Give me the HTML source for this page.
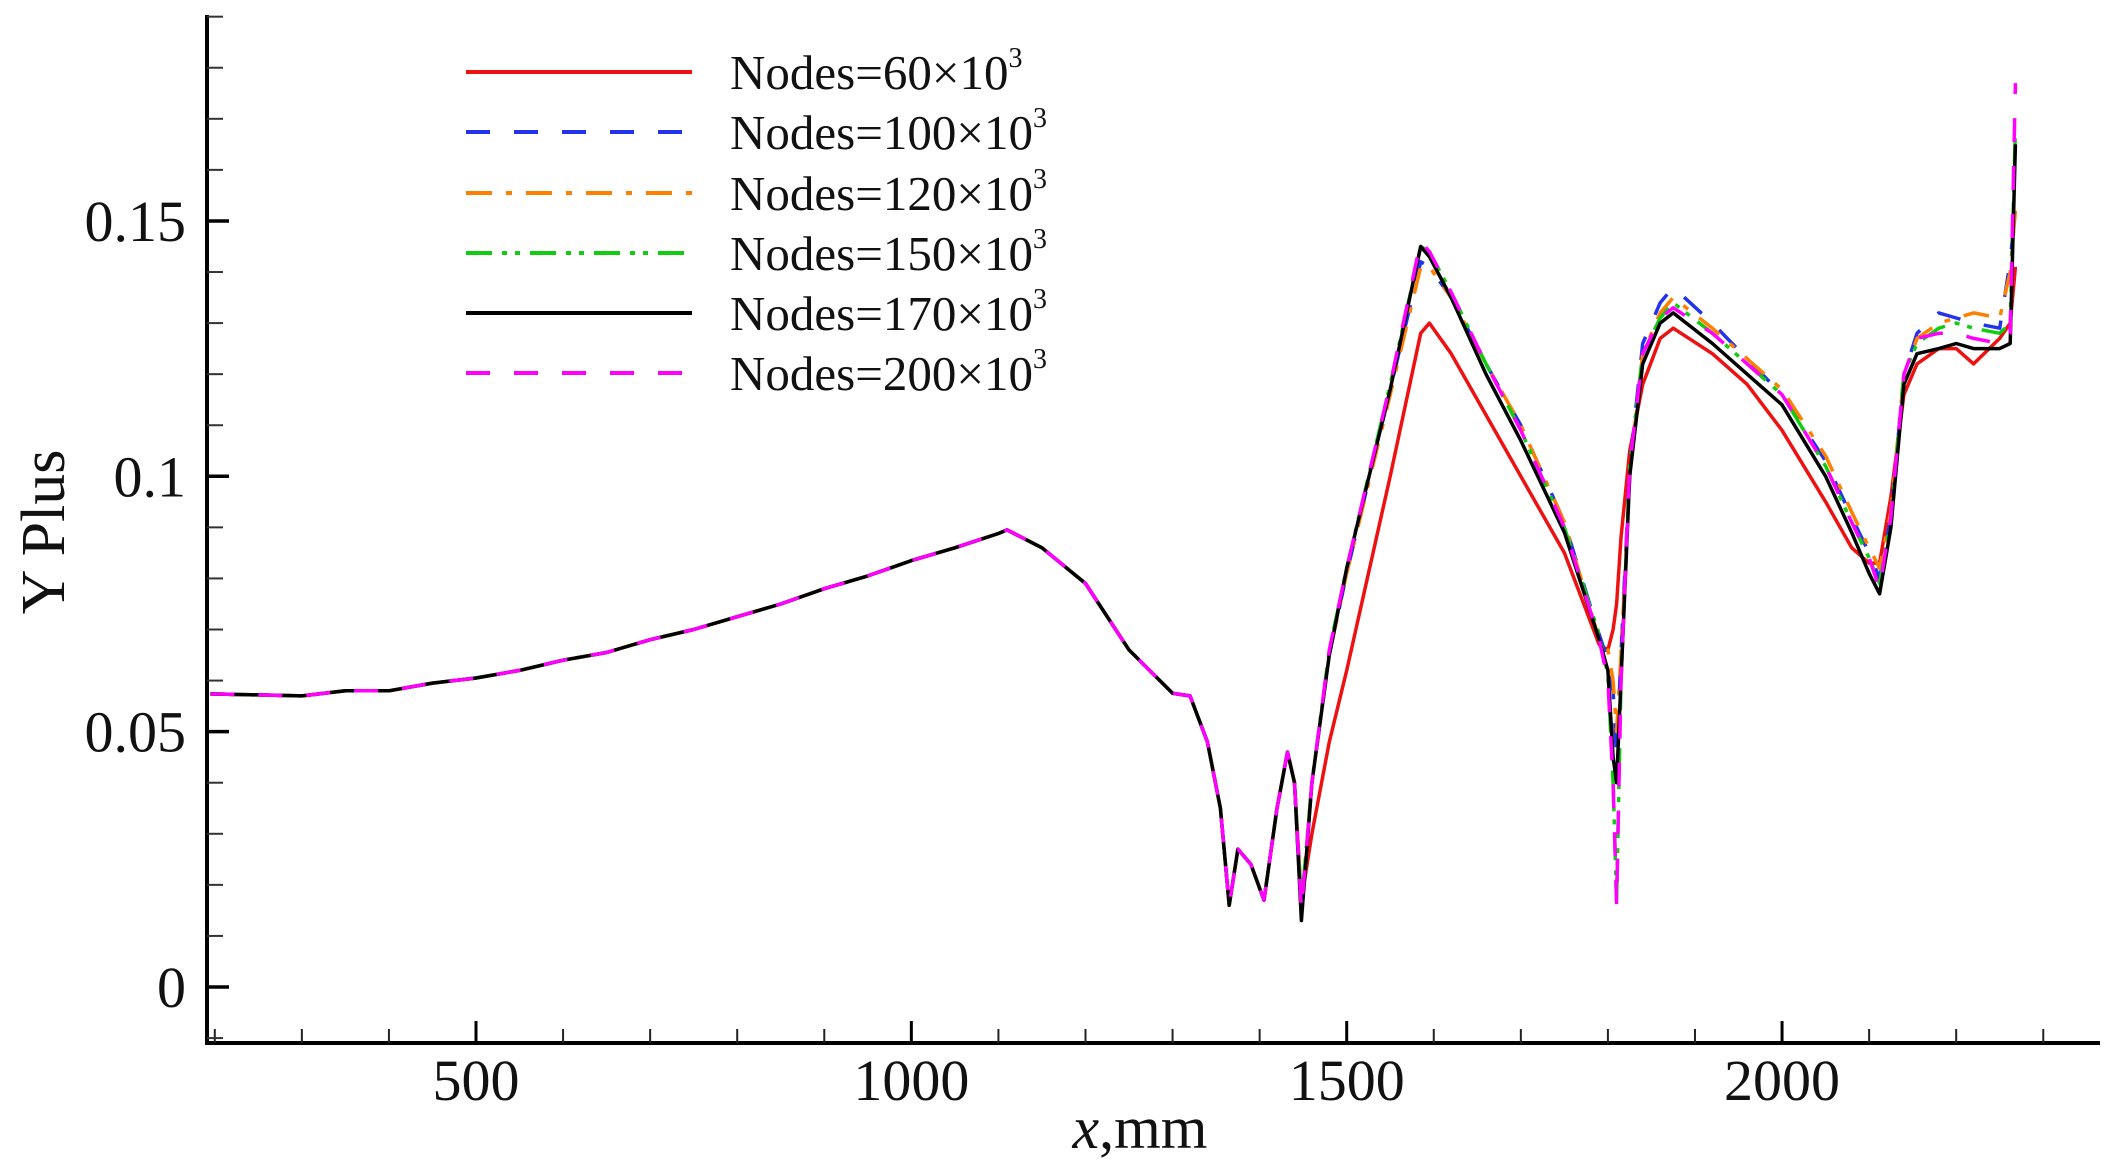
<!DOCTYPE html>
<html><head><meta charset="utf-8"><style>
html,body{margin:0;padding:0;background:#fff;}
svg{display:block;}
text{font-family:"Liberation Serif",serif;fill:#111;}
</style></head><body>
<svg id="chart" width="2122" height="1165" viewBox="0 0 2122 1165" xmlns="http://www.w3.org/2000/svg">
<g id="axes"></g>
<g id="series"></g>
<g id="legend"></g>
<text transform="translate(64,532) rotate(-90)" text-anchor="middle" font-size="62">Y Plus</text>
<text x="1140" y="1148" text-anchor="middle" font-size="60"><tspan font-style="italic">x</tspan>,mm</text>
</svg>
<script>
const xTicks=[500,1000,1500,2000];
const xMinor=[200,300,400,600,700,800,900,1100,1200,1300,1400,1600,1700,1800,1900,2100,2200,2300];
const yTicks=[0,0.05,0.1,0.15];
const yTickLabels=["0","0.05","0.1","0.15"];
const yMinor=[-0.01,0.01,0.02,0.03,0.04,0.06,0.07,0.08,0.09,0.11,0.12,0.13,0.14,0.16,0.17,0.18,0.19];
const xCommon=[195,250,300,350,400,450,500,550,600,650,700,750,800,850,900,950,1000,1050,1100,1110,1150,1200,1250,1300,1320,1340,1355,1365,1375,1390,1405,1420,1432,1440];
const yCommon=[.0574,.0572,.0570,.0580,.0580,.0595,.0605,.0620,.0640,.0655,.0680,.0700,.0725,.0750,.0780,.0805,.0835,.0860,.0888,.0895,.0860,.0790,.0660,.0575,.0570,.0480,.0350,.0160,.0270,.0240,.0170,.0350,.0460,.0400];
const xTail=[1448,1460,1480,1500,1550,1585,1595,1620,1660,1700,1750,1790,1800,1806,1810,1815,1825,1840,1860,1875,1920,1960,2000,2050,2080,2100,2112,2125,2140,2155,2180,2200,2220,2250,2262,2268];
const tailRed=[.017,.030,.048,.062,.100,.128,.130,.124,.112,.100,.085,.067,.066,.070,.075,.088,.105,.118,.127,.129,.124,.118,.109,.095,.086,.083,.083,.096,.116,.122,.125,.125,.122,.127,.130,.141];
const tailBlue=[.015,.040,.065,.081,.117,.142,.141,.135,.122,.110,.091,.069,.064,.058,.045,.065,.102,.126,.134,.137,.130,.123,.116,.103,.092,.085,.080,.092,.120,.128,.132,.131,.130,.129,.142,.153];
const tailOrange=[.015,.040,.065,.081,.116,.141,.141,.135,.122,.110,.091,.068,.066,.060,.050,.065,.100,.124,.132,.135,.129,.123,.117,.104,.093,.086,.082,.093,.120,.127,.130,.131,.132,.131,.140,.152];
const tailGreen=[.016,.040,.066,.082,.118,.145,.144,.136,.122,.109,.090,.069,.061,.040,.017,.060,.102,.124,.131,.134,.128,.122,.116,.102,.091,.084,.079,.092,.120,.126,.129,.130,.129,.128,.130,.168];
const tailBlack=[.013,.040,.065,.082,.117,.145,.143,.135,.120,.107,.089,.068,.062,.045,.040,.060,.100,.122,.130,.132,.126,.120,.114,.100,.089,.081,.077,.090,.118,.124,.125,.126,.125,.125,.126,.165];
const tailMagenta=[.015,.040,.066,.082,.118,.146,.144,.136,.122,.109,.090,.068,.060,.040,.016,.060,.102,.124,.131,.133,.128,.122,.116,.102,.091,.084,.078,.092,.120,.127,.128,.128,.127,.126,.128,.177];
const seriesNames=["60","100","120","150","170","200"];

const NS="http://www.w3.org/2000/svg";
const X=v=>476+(v-500)*0.8707;
const Y=v=>987-v*5107;
const AX_L=207, AX_B=1043, AX_T=15, AX_R=2100;
function mk(tag,attrs,parent){const e=document.createElementNS(NS,tag);for(const k in attrs)e.setAttribute(k,attrs[k]);parent.appendChild(e);return e;}
const axes=document.getElementById('axes');
let e;
e=mk('line',{x1:AX_L,y1:AX_T,x2:AX_L,y2:AX_B+2,stroke:'#000','stroke-width':4},axes);


e=mk('line',{x1:AX_L-2,y1:AX_B,x2:AX_R,y2:AX_B,stroke:'#000','stroke-width':4},axes);


xTicks.forEach(v=>{
  e=mk('line',{x1:X(v),y1:AX_B,x2:X(v),y2:AX_B-22,stroke:'#000','stroke-width':3},axes);
  
  
  e=mk('text',{x:X(v),y:1100,'text-anchor':'middle','font-size':58},axes);
  e.textContent=String(v);
  
  
});
xMinor.forEach(v=>{
  e=mk('line',{x1:X(v),y1:AX_B,x2:X(v),y2:AX_B-14,stroke:'#222','stroke-width':2},axes);
  
  
});
yTicks.forEach((v,i)=>{
  e=mk('line',{x1:AX_L,y1:Y(v),x2:AX_L+22,y2:Y(v),stroke:'#000','stroke-width':3.5},axes);
  
  
  e=mk('text',{x:186,y:Y(v)+20,'text-anchor':'end','font-size':58},axes);
  e.textContent=yTickLabels[i];
  
  
});
yMinor.forEach(v=>{
  e=mk('line',{x1:AX_L,y1:Y(v),x2:AX_L+16,y2:Y(v),stroke:'#333','stroke-width':2},axes);
  
  
});

const tails=[tailRed,tailBlue,tailOrange,tailGreen,tailBlack,tailMagenta];
const colors=['#ee1111','#2233ee','#ff7f00','#11cc11','#000000','#ff00ff'];
const dashes=['none','24 24','26 14 6 14','26 10 5 8 5 10','none','24 24'];
const xs=xCommon.concat(xTail);
const sg=document.getElementById('series');
tails.forEach((t,i)=>{
  const ys=yCommon.concat(t);
  const d=xs.map((x,j)=>(j?'L':'M')+X(x).toFixed(1)+','+Y(ys[j]).toFixed(1)).join(' ');
  const p=mk('path',{d:d,fill:'none',stroke:colors[i],'stroke-width':3.5,'stroke-linejoin':'round'},sg);
  if(dashes[i]!=='none')p.setAttribute('stroke-dasharray',dashes[i]);
  
  
});

const lg=document.getElementById('legend');
const rowY=[72,132,193,253,313,373];
seriesNames.forEach((n,i)=>{
  const l=mk('line',{x1:466,y1:rowY[i],x2:692,y2:rowY[i],stroke:colors[i],'stroke-width':4},lg);
  if(dashes[i]!=='none')l.setAttribute('stroke-dasharray',dashes[i]);
  
  
  const t=mk('text',{x:730,y:rowY[i]+17,'font-size':49},lg);
  t.textContent='Nodes='+n+'×10';
  const s=mk('tspan',{dy:-22,'font-size':28},t);
  s.textContent='3';
  
  
});
</script>
</body></html>
